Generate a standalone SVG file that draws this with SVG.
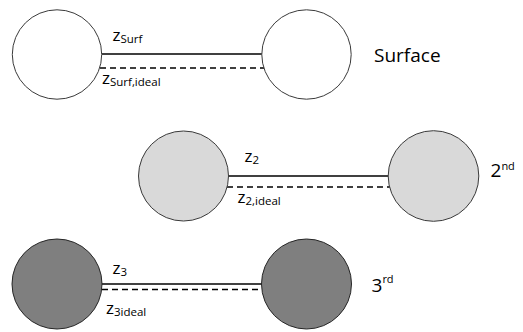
<svg xmlns="http://www.w3.org/2000/svg" width="523" height="332" viewBox="0 0 523 332">
  <style>
    .node { stroke: #3a3a3a; stroke-width: 1; }
    .white { fill: #ffffff; }
    .light { fill: #d9d9d9; }
    .dark { fill: #7f7f7f; stroke: #262626; }
    .solid { stroke: #000; stroke-width: 1.6; fill: none; }
    .dashed { stroke: #000; stroke-width: 1.6; stroke-dasharray: 6 4; fill: none; }
    text { font-family: "Open Sans", "Liberation Sans", sans-serif; fill: #000; }
    .z { font-size: 17px; }
    .sub { font-size: 11.5px; }
    .lab { font-size: 19px; }
    .sup { font-size: 11px; }
  </style>
  <rect width="523" height="332" fill="#ffffff"/>

  <g id="connectors">
    <line class="solid" x1="102" y1="54" x2="262" y2="54"/>
    <line class="dashed" x1="100" y1="68" x2="264" y2="68"/>
    <line class="solid" x1="228.5" y1="176" x2="388.5" y2="176"/>
    <line class="dashed" x1="227" y1="187" x2="390" y2="187"/>
    <line class="solid" x1="102" y1="284" x2="262" y2="284"/>
    <line class="dashed" x1="102" y1="289.5" x2="262" y2="289.5"/>
    <text class="z" x="112.5" y="41">z<tspan class="sub" dy="2">Surf</tspan></text>
    <text class="z" x="102" y="83.5">z<tspan class="sub" dy="2.5">Surf,ideal</tspan></text>
    <text class="z" x="244.5" y="162">z<tspan class="sub" dy="2">2</tspan></text>
    <text class="z" x="237.5" y="203">z<tspan class="sub" dy="2">2,ideal</tspan></text>
    <text class="z" x="112.5" y="273.5">z<tspan class="sub" dy="2">3</tspan></text>
    <text class="z" x="106" y="314">z<tspan class="sub" dy="2">3ideal</tspan></text>
  </g>

  <g id="surf-left"><circle class="node white" cx="57" cy="54.5" r="44.7"/></g>
  <g id="surf-right"><circle class="node white" cx="306.5" cy="54.5" r="44.7"/></g>
  <g id="second-left"><circle class="node light" cx="183.5" cy="176" r="45"/></g>
  <g id="second-right"><circle class="node light" cx="433.5" cy="176" r="45.3"/></g>
  <g id="third-left"><circle class="node dark" cx="57" cy="284" r="45"/></g>
  <g id="third-right"><circle class="node dark" cx="306.5" cy="284" r="45"/></g>

  <g id="labels">
    <text class="lab" x="374" y="62">Surface</text>
    <text class="lab" x="490.5" y="176.7">2<tspan class="sup" dy="-7">nd</tspan></text>
    <text class="lab" x="371.5" y="291.7">3<tspan class="sup" dy="-8.5">rd</tspan></text>
  </g>
</svg>
